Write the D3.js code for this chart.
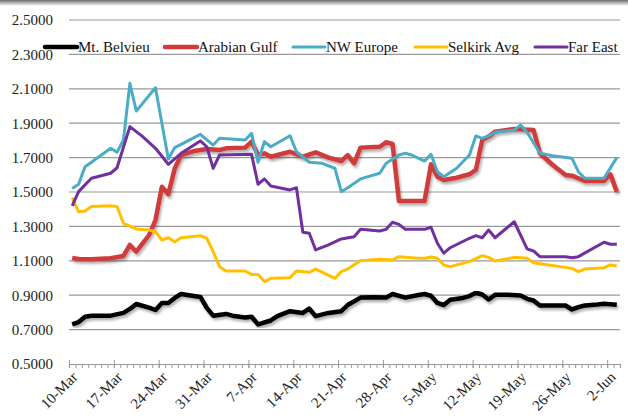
<!DOCTYPE html>
<html>
<head>
<meta charset="utf-8">
<script src="https://cdn.jsdelivr.net/npm/d3@7"></script>
<style>
  body { margin: 0; background: #fff; }
  svg { display: block; font-family: "Liberation Serif", "DejaVu Serif", serif; }
</style>
</head>
<body>
<svg id="viz" width="628" height="418"></svg>
<script>
// prices, [date, value]
var mtBelvieu = [["3/10",0.731],["3/11",0.744],["3/12",0.775],["3/13",0.781],["3/15",0.781],["3/16",0.781],["3/18",0.797],["3/19",0.820],["3/20",0.849],["3/22",0.828],["3/23",0.814],["3/24",0.855],["3/25",0.855],["3/26",0.884],["3/27",0.907],["3/28",0.901],["3/30",0.890],["3/31",0.826],["4/1",0.781],["4/3",0.791],["4/4",0.781],["4/6",0.770],["4/7",0.775],["4/8",0.730],["4/10",0.753],["4/11",0.778],["4/13",0.807],["4/15",0.797],["4/16",0.822],["4/17",0.778],["4/19",0.797],["4/21",0.807],["4/22",0.843],["4/24",0.886],["4/26",0.888],["4/28",0.886],["4/29",0.907],["5/1",0.886],["5/3",0.901],["5/4",0.907],["5/5",0.897],["5/6",0.855],["5/7",0.843],["5/8",0.873],["5/10",0.884],["5/11",0.895],["5/12",0.914],["5/13",0.904],["5/14",0.875],["5/15",0.902],["5/17",0.902],["5/19",0.898],["5/20",0.879],["5/21",0.869],["5/22",0.840],["5/24",0.840],["5/26",0.840],["5/27",0.817],["5/28",0.831],["5/29",0.840],["5/31",0.846],["6/1",0.850],["6/3",0.844]];

var arabianGulf = [["3/10",1.117],["3/11",1.110],["3/13",1.109],["3/16",1.115],["3/18",1.128],["3/19",1.192],["3/20",1.153],["3/22",1.250],["3/23",1.337],["3/24",1.531],["3/25",1.487],["3/26",1.637],["3/27",1.715],["3/29",1.738],["3/31",1.750],["4/2",1.744],["4/3",1.754],["4/6",1.758],["4/7",1.793],["4/8",1.715],["4/9",1.725],["4/10",1.705],["4/13",1.734],["4/15",1.705],["4/17",1.731],["4/19",1.700],["4/21",1.680],["4/22",1.715],["4/23",1.667],["4/24",1.758],["4/27",1.763],["4/28",1.789],["4/29",1.779],["4/30",1.448],["5/4",1.448],["5/5",1.661],["5/6",1.589],["5/7",1.570],["5/9",1.583],["5/11",1.603],["5/12",1.628],["5/13",1.802],["5/14",1.822],["5/15",1.851],["5/18",1.866],["5/21",1.860],["5/22",1.725],["5/24",1.657],["5/26",1.599],["5/27",1.595],["5/29",1.564],["6/1",1.564],["6/2",1.603],["6/3",1.502]];

var nwEurope = [["3/10",1.521],["3/11",1.545],["3/12",1.647],["3/13",1.673],["3/16",1.754],["3/17",1.731],["3/18",1.802],["3/19",2.132],["3/20",1.971],["3/23",2.106],["3/25",1.692],["3/26",1.758],["3/27",1.777],["3/30",1.835],["4/1",1.773],["4/2",1.812],["4/6",1.802],["4/7",1.841],["4/8",1.673],["4/9",1.793],["4/10",1.763],["4/13",1.827],["4/14",1.734],["4/16",1.673],["4/18",1.667],["4/20",1.638],["4/21",1.502],["4/22",1.525],["4/24",1.576],["4/27",1.609],["4/28",1.667],["4/30",1.715],["5/1",1.725],["5/2",1.715],["5/4",1.680],["5/5",1.719],["5/6",1.618],["5/7",1.589],["5/9",1.638],["5/11",1.715],["5/12",1.826],["5/13",1.812],["5/14",1.827],["5/15",1.847],["5/18",1.860],["5/19",1.890],["5/20",1.847],["5/22",1.725],["5/24",1.711],["5/27",1.696],["5/28",1.618],["5/29",1.580],["6/1",1.580],["6/3",1.700]];

var selkirkAvg = [["3/10",1.467],["3/11",1.385],["3/12",1.390],["3/13",1.415],["3/16",1.420],["3/17",1.415],["3/18",1.318],["3/20",1.285],["3/22",1.279],["3/23",1.269],["3/24",1.221],["3/25",1.234],["3/26",1.211],["3/27",1.234],["3/30",1.246],["3/31",1.231],["4/1",1.153],["4/2",1.066],["4/3",1.041],["4/6",1.041],["4/7",1.020],["4/8",1.020],["4/9",0.979],["4/10",0.998],["4/13",1.002],["4/14",1.041],["4/16",1.033],["4/17",1.052],["4/20",0.998],["4/21",1.037],["4/22",1.052],["4/24",1.101],["4/27",1.109],["4/29",1.105],["4/30",1.124],["5/3",1.115],["5/4",1.115],["5/5",1.122],["5/6",1.115],["5/7",1.076],["5/8",1.066],["5/11",1.095],["5/13",1.130],["5/14",1.120],["5/15",1.099],["5/18",1.120],["5/20",1.115],["5/21",1.089],["5/27",1.056],["5/28",1.037],["5/29",1.052],["6/1",1.060],["6/2",1.076],["6/3",1.070]];

var farEast = [["3/10",1.419],["3/11",1.502],["3/13",1.580],["3/16",1.609],["3/17",1.641],["3/19",1.880],["3/21",1.822],["3/23",1.754],["3/25",1.661],["3/27",1.725],["3/30",1.797],["3/31",1.763],["4/1",1.637],["4/2",1.715],["4/7",1.719],["4/8",1.545],["4/9",1.576],["4/10",1.535],["4/13",1.512],["4/14",1.525],["4/15",1.266],["4/16",1.260],["4/17",1.163],["4/19",1.192],["4/21",1.227],["4/23",1.240],["4/24",1.283],["4/27",1.273],["4/28",1.283],["4/29",1.324],["4/30",1.312],["5/1",1.283],["5/4",1.283],["5/5",1.295],["5/6",1.202],["5/7",1.144],["5/8",1.176],["5/11",1.231],["5/12",1.246],["5/13",1.234],["5/14",1.279],["5/15",1.234],["5/18",1.327],["5/20",1.169],["5/21",1.157],["5/22",1.124],["5/26",1.124],["5/27",1.118],["5/28",1.124],["6/1",1.208],["6/2",1.196],["6/3",1.196]];

var seriesNames = ["Mt. Belvieu", "Arabian Gulf", "NW Europe", "Selkirk Avg", "Far East"];
var seriesColors = ["#000000", "#d03b3b", "#4bacc6", "#ffc000", "#7030a0"];
var seriesWidths = [4.5, 4.5, 3, 3, 3];
var seriesData = [mtBelvieu, arabianGulf, nwEurope, selkirkAvg, farEast];
var yTicks = [0.5, 0.7, 0.9, 1.1, 1.3, 1.5, 1.7, 1.9, 2.1, 2.3, 2.5];
var firstDay = "3/10", lastDay = "6/4";

var parse = function (s) { return d3.timeParse("%m/%d/%Y")(s + "/2014"); };
var fmt = d3.timeFormat("%-d-%b");

var svg = d3.select("#viz");
var margin = { top: 20, right: 8, bottom: 54, left: 69 };
var width = 628 - margin.left - margin.right,
    height = 418 - margin.top - margin.bottom;

// shadow edge on top of the screenshot
var defs = svg.append("defs");
var grad = defs.append("linearGradient").attr("id", "topEdge")
    .attr("x1", 0).attr("y1", 0).attr("x2", 0).attr("y2", 1);
grad.append("stop").attr("offset", "0%").attr("stop-color", "#6e6e6e");
grad.append("stop").attr("offset", "100%").attr("stop-color", "#ffffff");
svg.append("rect").attr("x", 0).attr("y", 0).attr("width", 628).attr("height", 6)
    .attr("fill", "url(#topEdge)");

var shadow = defs.append("filter").attr("id", "shadow")
    .attr("x", "-5%").attr("y", "-5%").attr("width", "110%").attr("height", "115%");
shadow.append("feDropShadow").attr("dx", 1.5).attr("dy", 2.5)
    .attr("stdDeviation", 1.3).attr("flood-color", "#000").attr("flood-opacity", 0.3);

var g = svg.append("g")
    .attr("transform", "translate(" + margin.left + "," + margin.top + ")");

var x = d3.scaleTime().domain([parse(firstDay), parse(lastDay)]).range([0, width]);
var y = d3.scaleLinear().domain([0.5, 2.5]).range([height, 0]);

// gridlines
g.append("g").attr("class", "grid")
    .selectAll("line")
    .data(yTicks.slice(1))
    .enter().append("line")
    .attr("x1", 0).attr("x2", width)
    .attr("y1", function (d) { return y(d); })
    .attr("y2", function (d) { return y(d); })
    .attr("stroke", "#9a9a9a").attr("stroke-width", 1.2);

// y labels
var yAxis = g.append("g").call(d3.axisLeft(y).tickValues(yTicks)
    .tickFormat(d3.format(".4f")).tickSize(0).tickPadding(16));
yAxis.select(".domain").remove();
yAxis.selectAll("text").attr("font-size", 15).attr("fill", "#222")
    .attr("font-family", "Liberation Serif");

// x axis: minor day ticks and weekly major ticks
var xMinor = g.append("g").attr("transform", "translate(0," + height + ")")
    .call(d3.axisBottom(x).ticks(d3.timeDay.every(1)).tickSize(4).tickFormat(""));
xMinor.selectAll("line").attr("stroke", "#9a9a9a");
xMinor.select(".domain").attr("stroke", "#9a9a9a").attr("stroke-width", 1.2);

var weeks = d3.timeDay.range(parse(firstDay), parse(lastDay), 7);
var xMajor = g.append("g").attr("transform", "translate(0," + height + ")")
    .call(d3.axisBottom(x).tickValues(weeks).tickSize(4).tickFormat(fmt));
xMajor.select(".domain").remove();
xMajor.selectAll("line").attr("y1", -4).attr("stroke", "#9a9a9a");
xMajor.selectAll("text")
    .attr("font-size", 15).attr("fill", "#222").attr("font-family", "Liberation Serif")
    .attr("text-anchor", "end")
    .attr("dy", 0).attr("y", 0)
    .attr("transform", "translate(9,14) rotate(-45)");

// lines, points sit in the middle of their day
var line = d3.line()
    .x(function (d) { return x(d3.timeHour.offset(parse(d[0]), 12)); })
    .y(function (d) { return y(d[1]); });

seriesData.forEach(function (s, i) {
    g.append("path")
        .datum(s)
        .attr("fill", "none")
        .attr("stroke", seriesColors[i])
        .attr("stroke-width", seriesWidths[i])
        .attr("stroke-linejoin", "round")
        .attr("filter", i < 2 ? "url(#shadow)" : null)
        .attr("d", line);
});

// legend
var legendX = [45, 165, 293, 415, 535];
var legend = svg.append("g").attr("class", "legend");
seriesNames.forEach(function (name, i) {
    legend.append("line")
        .attr("x1", legendX[i]).attr("x2", legendX[i] + 32)
        .attr("y1", 47).attr("y2", 47)
        .attr("stroke", seriesColors[i]).attr("stroke-width", seriesWidths[i])
        .attr("stroke-linecap", "round");
    legend.append("text")
        .attr("x", legendX[i] + 33).attr("y", 52)
        .attr("font-size", 15).attr("fill", "#111")
        .text(name);
});
</script>
</body>
</html>
